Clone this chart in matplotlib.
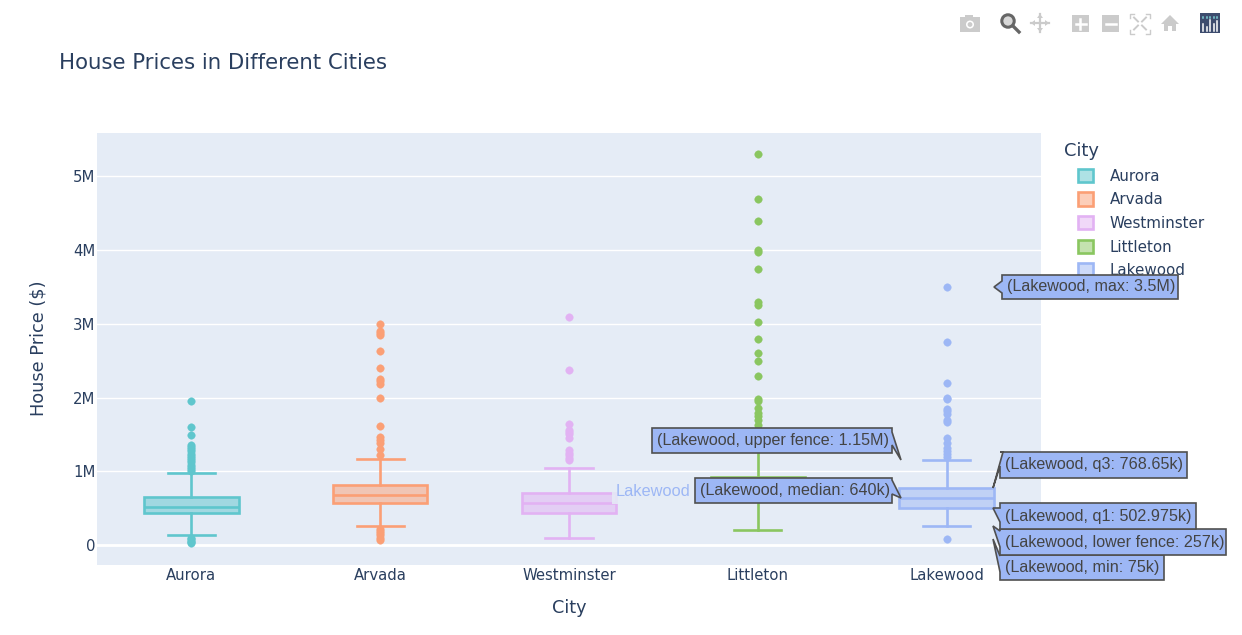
import matplotlib
matplotlib.use("Agg")
import matplotlib.pyplot as plt
from matplotlib.patches import Patch, Polygon, Rectangle, Circle
from matplotlib.colors import to_rgba

cities = ["Aurora", "Arvada", "Westminster", "Littleton", "Lakewood"]
colors = ["#5FC6CD", "#FB9F75", "#E2B2F3", "#8AC660", "#9DB7F5"]

q1 = [0.43, 0.575, 0.43, 0.62, 0.502975]
median = [0.52, 0.68, 0.565, 0.75, 0.64]
q3 = [0.655, 0.82, 0.70, 0.92, 0.76865]
lower_fence = [0.135, 0.26, 0.10, 0.20, 0.257]
upper_fence = [0.975, 1.17, 1.05, 1.35, 1.15]

outliers_aurora = [1.95, 1.60, 1.49, 1.36, 1.33, 1.30, 1.27, 1.24, 1.21, 1.18, 1.15, 1.12, 1.09, 1.06, 1.03, 1.0,
                   0.10, 0.08, 0.06, 0.04, 0.03]
outliers_arvada = [3.0, 2.91, 2.88, 2.85, 2.63, 2.40, 2.25, 2.22, 2.19, 2.0, 1.62, 1.46, 1.42, 1.39, 1.30, 1.22,
                   0.215, 0.19, 0.16, 0.13, 0.10, 0.07]
outliers_westminster = [3.10, 2.37, 1.64, 1.56, 1.53, 1.50, 1.45, 1.29, 1.25, 1.22, 1.18, 1.15]
outliers_littleton = [5.30, 4.70, 4.40, 4.0, 3.97, 3.75, 3.30, 3.26, 3.03, 2.79, 2.60, 2.50, 2.29, 1.985, 1.95,
                      1.86, 1.79, 1.75, 1.70, 1.63, 1.58]
outliers_lakewood = [3.5, 2.75, 2.2, 2.0, 1.98, 1.85, 1.82, 1.78, 1.70, 1.67, 1.45, 1.38, 1.32, 1.28, 1.24, 1.20, 0.075]
outliers = [outliers_aurora, outliers_arvada, outliers_westminster, outliers_littleton, outliers_lakewood]

y_ticks = [0, 1, 2, 3, 4, 5]
y_tick_labels = ["0", "1M", "2M", "3M", "4M", "5M"]

INK = "#2a3f5f"
TIP_INK = "#444444"
W, H = 1242, 635
LW = 1.9
plt.rcParams["font.family"] = ["DejaVu Sans"]

fig = plt.figure(figsize=(W / 100, H / 100), dpi=100, facecolor="white")
ax = fig.add_axes([97 / W, 1 - 565 / H, (1041 - 97) / W, (565 - 133) / H], facecolor="#E5ECF6")

for i, c in enumerate(colors):
    stats = [dict(med=median[i], q1=q1[i], q3=q3[i], whislo=lower_fence[i], whishi=upper_fence[i], fliers=outliers[i])]
    ax.bxp(stats, positions=[i], widths=0.5, capwidths=0.25, patch_artist=True, manage_ticks=False,
           boxprops=dict(facecolor=to_rgba(c, 0.5), edgecolor=c, linewidth=LW),
           medianprops=dict(color=c, linewidth=LW),
           whiskerprops=dict(color=c, linewidth=LW),
           capprops=dict(color=c, linewidth=LW),
           flierprops=dict(marker="o", markerfacecolor=c, markeredgecolor=c, markersize=5.4, markeredgewidth=0.3))

ax.set_xlim(-0.5, 4.5)
ax.set_ylim(-0.271, 5.59)
ax.set_xticks(range(5), cities)
ax.set_yticks(y_ticks, y_tick_labels)
ax.tick_params(length=0, colors=INK, labelsize=10.7)
ax.tick_params(axis="x", pad=2.5)
ax.tick_params(axis="y", pad=1)
ax.yaxis.grid(True, color="white", linewidth=1.0)
ax.set_axisbelow(True)
ax.axhline(0, color="white", linewidth=2.0, zorder=1)
for s in ax.spines.values():
    s.set_visible(False)

fig.text(59 / W, 1 - 63 / H, "House Prices in Different Cities", fontsize=15.3, color=INK, va="center", ha="left")
fig.text(569 / W, 1 - 608 / H, "City", fontsize=12.7, color=INK, va="center", ha="center")
fig.text(38 / W, 1 - 348 / H, "House Price ($)", fontsize=12.8, color=INK, va="center", ha="center", rotation=90)

handles = [Patch(facecolor=to_rgba(c, 0.5), edgecolor=c, linewidth=LW, label=n) for c, n in zip(colors, cities)]
leg = ax.legend(handles=handles, title="City", loc="upper left", bbox_to_anchor=(1078 / W, 1 - 142 / H),
                bbox_transform=fig.transFigure, frameon=False, borderpad=0, borderaxespad=0, fontsize=10.9,
                title_fontsize=12.9, alignment="left", handlelength=1.0, handleheight=1.0, handletextpad=1.1,
                labelspacing=0.57, labelcolor=INK)
leg.get_title().set_color(INK)
leg.get_title().set_x(-14)

# Overlay in pixel coordinates for the hover labels and the mode bar
ov = fig.add_axes([0, 0, 1, 1], facecolor="none", zorder=10)
ov.set_xlim(0, W)
ov.set_ylim(H, 0)
ov.axis("off")

# light name label of the hover
ov.add_patch(Rectangle((612, 478), 82, 26, facecolor="#E5ECF6", alpha=0.85, edgecolor="none"))
ov.text(616, 491, "Lakewood", family="Liberation Sans", fontsize=11.8, color="#9DB7F5", va="center", ha="left")


def tooltip(text, x0, x1, y0, y1, tip, a, b, side):
    if side == "right":
        pts = [(x0, y0), (x1, y0), a, tip, b, (x1, y1), (x0, y1)]
    else:
        pts = [(x0, y0), (x1, y0), (x1, y1), (x0, y1), b, tip, a]
    ov.add_patch(Polygon(pts, closed=True, facecolor="#9DB7F5", edgecolor="#505050", linewidth=1.2))
    ov.text(x0 + 5, (y0 + y1) / 2, text, family="Liberation Sans", fontsize=11.6, color=TIP_INK, va="center", ha="left")


tooltip("(Lakewood, min: 75k)", 1000, 1164, 555, 580, (993, 539), (1000, 556), (1000, 572), "left")
tooltip("(Lakewood, lower fence: 257k)", 1000, 1226, 529, 555, (993, 526), (1000, 531), (1000, 547), "left")
tooltip("(Lakewood, q1: 502.975k)", 1000, 1196, 503, 529, (993, 508), (1000, 508), (1000, 522), "left")
tooltip("(Lakewood, q3: 768.65k)", 1000, 1187, 452, 478, (993, 488), (1003, 452), (1000, 466), "left")
tooltip("(Lakewood, max: 3.5M)", 1002, 1178, 275, 299, (994, 287), (1002, 281), (1002, 293), "left")
tooltip("(Lakewood, upper fence: 1.15M)", 652, 892, 428, 453, (901, 460), (892, 432), (892, 445), "right")
tooltip("(Lakewood, median: 640k)", 695, 892, 478, 503, (901, 498), (892, 480), (892, 494), "right")

# Mode bar
GREY = "#cbcbcb"
ov.add_patch(Rectangle((960, 17), 20, 15, facecolor=GREY, edgecolor="none"))
ov.add_patch(Rectangle((965, 15), 8, 3, facecolor=GREY, edgecolor="none"))
ov.add_patch(Circle((970, 24.5), 4, facecolor="white", edgecolor="none"))
ov.add_patch(Circle((970, 24.5), 2.4, facecolor=GREY, edgecolor="none"))
ov.add_patch(Circle((1008, 21), 6.2, facecolor="#d8d8d8", edgecolor="#666666", linewidth=2.2))
ov.plot([1013, 1019], [26, 32], color="#666666", lw=2.4)
ov.plot([1031, 1049], [23, 23], color=GREY, lw=1.6)
ov.plot([1040, 1040], [14, 32], color=GREY, lw=1.6)
for p in [[(1031, 23), (1035, 20), (1035, 26)], [(1049, 23), (1045, 20), (1045, 26)],
          [(1040, 14), (1037, 18), (1043, 18)], [(1040, 32), (1037, 28), (1043, 28)]]:
    ov.add_patch(Polygon(p, facecolor=GREY, edgecolor="none"))
for x in (1071, 1101):
    ov.add_patch(Rectangle((x + 1, 15), 17, 17, facecolor=GREY, edgecolor="none"))
    ov.plot([x + 5, x + 15], [23.5, 23.5], color="white", lw=1.8)
ov.plot([1080, 1080], [18.5, 28.5], color="white", lw=1.8)
for sx, sy in [(1, 1), (-1, 1), (1, -1), (-1, -1)]:
    cx, cy = 1140, 23.5
    ov.plot([cx + sx * 6, cx + sx * 10, cx + sx * 10], [cy + sy * 10, cy + sy * 10, cy + sy * 6], color=GREY, lw=1)
    ov.plot([cx + sx * 2, cx + sx * 6], [cy + sy * 2, cy + sy * 6], color=GREY, lw=1.4)
ov.add_patch(Polygon([(1161, 24), (1170, 15), (1179, 24), (1176, 24), (1176, 31), (1172, 31), (1172, 26),
                      (1168, 26), (1168, 31), (1164, 31), (1164, 24)], facecolor=GREY, edgecolor="none"))
ov.add_patch(Rectangle((1200, 13), 20, 20, facecolor="#3D4C6E", edgecolor="none"))
for x, top in zip([1203, 1206.5, 1210, 1213.5, 1217], [24, 27, 20, 24, 21]):
    ov.plot([x, x], [top, 30.5], color="white", lw=1.1)
    ov.plot([x, x], [17, 18], color="#7FD0D6", lw=1.1)

fig.savefig("out.png", dpi=100)
